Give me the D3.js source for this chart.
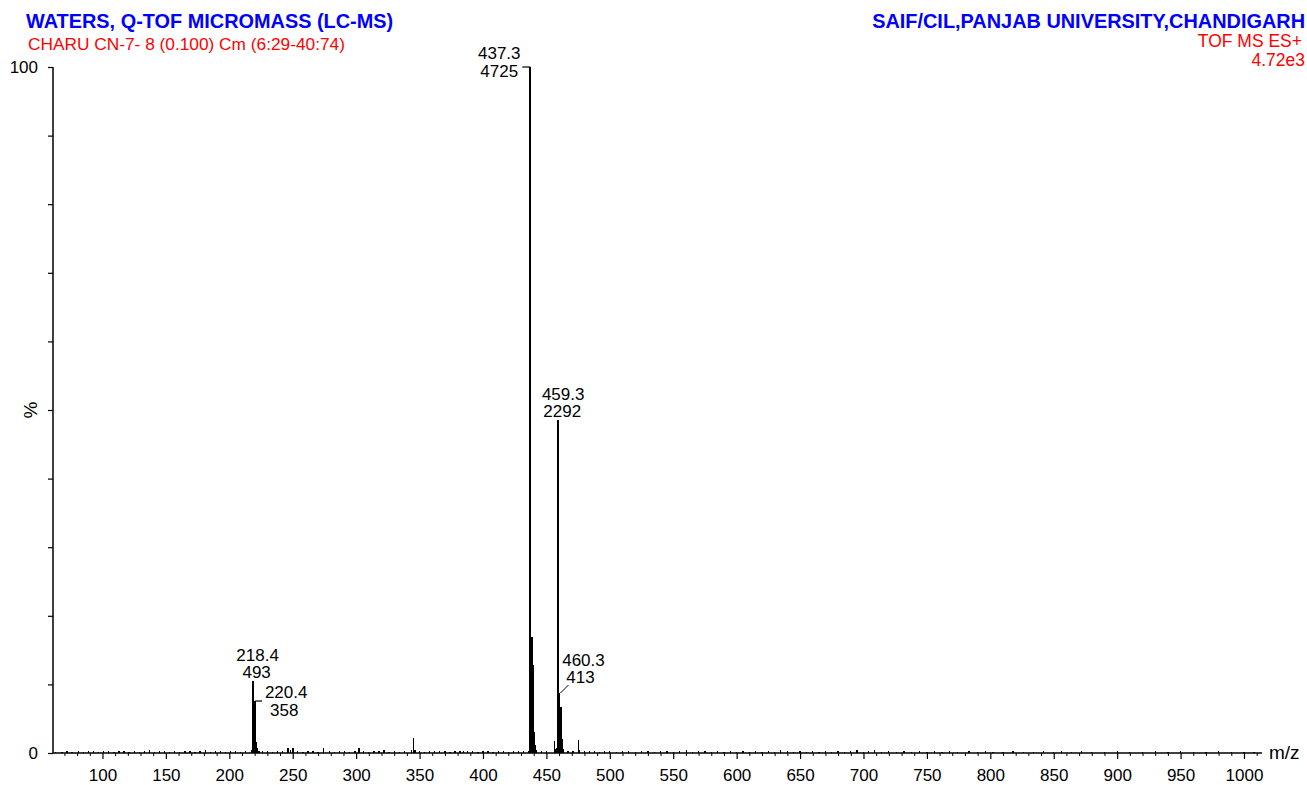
<!DOCTYPE html>
<html>
<head>
<meta charset="utf-8">
<script src="https://cdn.jsdelivr.net/npm/d3@7"></script>
<style>
  html, body { margin: 0; padding: 0; background: #fff; }
  svg { display: block; font-family: "Liberation Sans", Arial, sans-serif; }
</style>
</head>
<body>
<svg id="chart" width="1307" height="785"></svg>
<script>
// ---- Data ----
const titleLeft = "WATERS, Q-TOF MICROMASS (LC-MS)";
const subtitleLeft = "CHARU CN-7- 8 (0.100) Cm (6:29-40:74)";
const titleRight = "SAIF/CIL,PANJAB UNIVERSITY,CHANDIGARH";
const modeRight = "TOF MS ES+";
const scaleRight = "4.72e3";
const basePeakCounts = 4725;

// main peaks (m/z, relative intensity %)
const peakMz  = [217.4, 218.4, 219.4, 220.4, 221.4, 222.4, 223.4,
                 246.3, 248.3, 250.3, 274.5, 302.2, 343.4, 345.4, 346.4, 366.0, 384.4,
                 436.3, 437.3, 438.3, 439.3, 440.3, 441.3, 442.3,
                 456.3, 457.3, 458.3, 459.3, 460.3, 461.3, 462.3, 463.3,
                 475.3, 476.3, 560.3, 634.4, 695.0, 708.7, 783.2, 856.3, 930.5];
const peakPct = [0.4, 10.43, 2.2, 7.58, 1.6, 0.7, 0.3,
                 0.7, 0.4, 0.7, 0.8, 0.7, 0.4, 2.2, 0.5, 0.3, 0.3,
                 0.3, 100, 16.9, 12.8, 3.0, 1.2, 0.4,
                 1.7, 0.6, 0.8, 48.51, 8.74, 6.7, 2.0, 0.6,
                 1.9, 0.5, 0.5, 0.5, 0.4, 0.4, 0.3, 0.3, 0.25];

// baseline noise (m/z, %)
const noiseMz = [63,68,72,76,81,85,89,93,97,101,105,109,113,117,121,125,129,133,137,141,145,149,153,157,161,165,169,173,177,181,185,189,193,197,201,205,209,213,
  226,230,234,238,242,254,258,262,266,270,279,283,287,291,295,299,306,310,314,318,322,326,330,334,338,350,354,358,362,370,374,378,382,388,392,396,400,404,408,412,416,420,424,428,432,
  446,450,467,471,480,484,488,492,496,500,505,510,515,520,525,530,535,540,545,550,555,565,570,575,580,585,590,595,600,605,610,615,620,625,630,640,645,650,655,660,665,670,675,680,685,690,
  700,704,714,720,726,732,738,744,750,756,762,768,774,790,796,802,810,818,826,834,842,850,864,872,880,890,900,910,920,940,950,960,970,980,990,1000,1008];
const noisePct = [0.2,0.15,0.3,0.2,0.35,0.2,0.25,0.3,0.2,0.25,0.3,0.2,0.35,0.25,0.2,0.3,0.2,0.25,0.4,0.2,0.25,0.3,0.2,0.25,0.2,0.3,0.25,0.2,0.3,0.45,0.2,0.25,0.3,0.2,0.25,0.35,0.2,0.3,
  0.3,0.25,0.2,0.3,0.25,0.3,0.2,0.35,0.25,0.2,0.3,0.2,0.25,0.3,0.2,0.25,0.3,0.2,0.25,0.3,0.4,0.2,0.25,0.2,0.3,0.3,0.2,0.3,0.25,0.3,0.2,0.25,0.3,0.25,0.3,0.2,0.25,0.3,0.2,0.25,0.3,0.2,0.25,0.3,0.25,
  0.3,0.25,0.3,0.25,0.3,0.25,0.3,0.2,0.25,0.3,0.2,0.25,0.3,0.2,0.25,0.3,0.2,0.25,0.3,0.2,0.25,0.2,0.25,0.3,0.2,0.25,0.2,0.3,0.2,0.25,0.2,0.3,0.2,0.25,0.2,0.25,0.2,0.3,0.2,0.25,0.2,0.25,0.2,0.3,0.2,0.25,
  0.2,0.25,0.2,0.25,0.2,0.25,0.2,0.25,0.2,0.25,0.2,0.25,0.2,0.2,0.25,0.2,0.2,0.25,0.2,0.2,0.25,0.2,0.2,0.25,0.2,0.2,0.25,0.2,0.2,0.2,0.25,0.2,0.2,0.25,0.2,0.2,0.2];

// annotated peaks
const labelMz     = [218.4, 220.4, 437.3, 459.3, 460.3];
const labelCounts = [493, 358, 4725, 2292, 413];
const labelStyle  = ["top", "right", "left", "top", "diag"];

const xTickValues = [100,150,200,250,300,350,400,450,500,550,600,650,700,750,800,850,900,950,1000];
const xMinorTicks = d3.range(70, 1011, 10);
const yTickValues = [0,10,20,30,40,50,60,70,80,90,100];
const yTickLabels = {0: "0", 50: "%", 100: "100"};

// ---- Layout ----
const svg = d3.select("#chart");
const x = d3.scaleLinear().domain([61.0, 1014.2]).range([53, 1262]);
const y = d3.scaleLinear().domain([0, 100]).range([753, 67]);

svg.append("rect").attr("width", 1307).attr("height", 785).attr("fill", "#fff");

// titles
svg.append("text").attr("x", 26).attr("y", 28).attr("fill", "#0000ff")
  .attr("font-weight", "bold").attr("font-size", 19.9).text(titleLeft);
svg.append("text").attr("x", 28).attr("y", 50).attr("fill", "#ff0000")
  .attr("font-size", 17.3).text(subtitleLeft);
svg.append("text").attr("x", 1305).attr("y", 28).attr("fill", "#0000ff")
  .attr("text-anchor", "end").attr("font-weight", "bold").attr("font-size", 19.9).text(titleRight);
svg.append("text").attr("x", 1302).attr("y", 47).attr("fill", "#ff0000")
  .attr("text-anchor", "end").attr("font-size", 17.5).text(modeRight);
svg.append("text").attr("x", 1305).attr("y", 66).attr("fill", "#ff0000")
  .attr("text-anchor", "end").attr("font-size", 17.5).text(scaleRight);

// spectrum sticks
const sticks = svg.append("g").attr("stroke", "#000").attr("shape-rendering", "crispEdges");
const allMz = noiseMz.concat(peakMz);
const allPct = noisePct.concat(peakPct);
allMz.forEach((m, i) => {
  const p = allPct[i];
  sticks.append("line")
    .attr("x1", x(m)).attr("x2", x(m))
    .attr("y1", y(0)).attr("y2", y(p))
    .attr("stroke-width", p > 5 ? 2 : 1.3);
});

// x axis
const xAxisG = svg.append("g").attr("transform", `translate(0,${y(0)})`);
xAxisG.append("line").attr("x1", x.range()[0]).attr("x2", x.range()[1])
  .attr("stroke", "#000").attr("stroke-width", 1.5);
const xMajor = d3.axisBottom(x).tickValues(xTickValues).tickSize(6).tickPadding(10).tickFormat(d3.format("d"));
const gx = xAxisG.append("g").call(xMajor);
gx.select(".domain").remove();
gx.selectAll("text").attr("font-size", 17).attr("fill", "#000").attr("font-family", "Liberation Sans, Arial, sans-serif");
gx.selectAll("line").attr("stroke-width", 1.2);
const xMinor = d3.axisBottom(x).tickValues(xMinorTicks.filter(v => v % 50 !== 0)).tickSize(3).tickFormat("");
const gxm = xAxisG.append("g").call(xMinor);
gxm.select(".domain").remove();
gxm.selectAll("line").attr("stroke-width", 1);

svg.append("text").attr("x", 1269).attr("y", 759).attr("font-size", 19).attr("fill", "#000").text("m/z");

// y axis
const yAxisG = svg.append("g").attr("transform", `translate(${x.range()[0]},0)`);
yAxisG.append("line").attr("y1", y(0)).attr("y2", y(100)).attr("stroke", "#000").attr("stroke-width", 1.5);
const yAx = d3.axisLeft(y).tickValues(yTickValues).tickSize(5).tickFormat("");
const gy = yAxisG.append("g").call(yAx);
gy.select(".domain").remove();
gy.selectAll("line").attr("stroke-width", 1.2);
yTickValues.filter(v => yTickLabels[v] !== undefined).forEach(v => {
  const t = yTickLabels[v];
  if (t === "%") {
    svg.append("text").attr("transform", `translate(37,${y(v)}) rotate(-90)`)
      .attr("text-anchor", "middle").attr("font-size", 19).attr("fill", "#000").text(t);
  } else {
    svg.append("text").attr("x", 38).attr("y", y(v) + 6).attr("text-anchor", "end")
      .attr("font-size", 17).attr("fill", "#000").text(t);
  }
});

// peak annotations
const ann = svg.append("g").attr("font-size", 17).attr("fill", "#000").attr("text-anchor", "middle");
labelMz.forEach((m, i) => {
  const px = x(m);
  const py = y(labelCounts[i] / basePeakCounts * 100);
  const mzTxt = m.toFixed(1);
  const cTxt = String(labelCounts[i]);
  const st = labelStyle[i];
  if (st === "top") {
    ann.append("text").attr("x", px + 5).attr("y", py - 20).text(mzTxt);
    ann.append("text").attr("x", px + 4).attr("y", py - 3).text(cTxt);
  } else if (st === "left") {
    ann.append("line").attr("x1", px - 8).attr("x2", px).attr("y1", py).attr("y2", py)
      .attr("stroke", "#000").attr("stroke-width", 1.2);
    ann.append("text").attr("x", px - 31).attr("y", py - 8).text(mzTxt);
    ann.append("text").attr("x", px - 31).attr("y", py + 10).text(cTxt);
  } else if (st === "right") {
    ann.append("line").attr("x1", px).attr("x2", px + 7).attr("y1", py).attr("y2", py)
      .attr("stroke", "#000").attr("stroke-width", 1.2);
    ann.append("text").attr("x", px + 31).attr("y", py - 3).text(mzTxt);
    ann.append("text").attr("x", px + 29).attr("y", py + 15).text(cTxt);
  } else if (st === "diag") {
    ann.append("line").attr("x1", px + 1).attr("x2", px + 9).attr("y1", py).attr("y2", py - 8)
      .attr("stroke", "#000").attr("stroke-width", 1);
    ann.append("text").attr("x", px + 24).attr("y", py - 27).text(mzTxt);
    ann.append("text").attr("x", px + 21).attr("y", py - 10).text(cTxt);
  }
});
</script>
</body>
</html>
